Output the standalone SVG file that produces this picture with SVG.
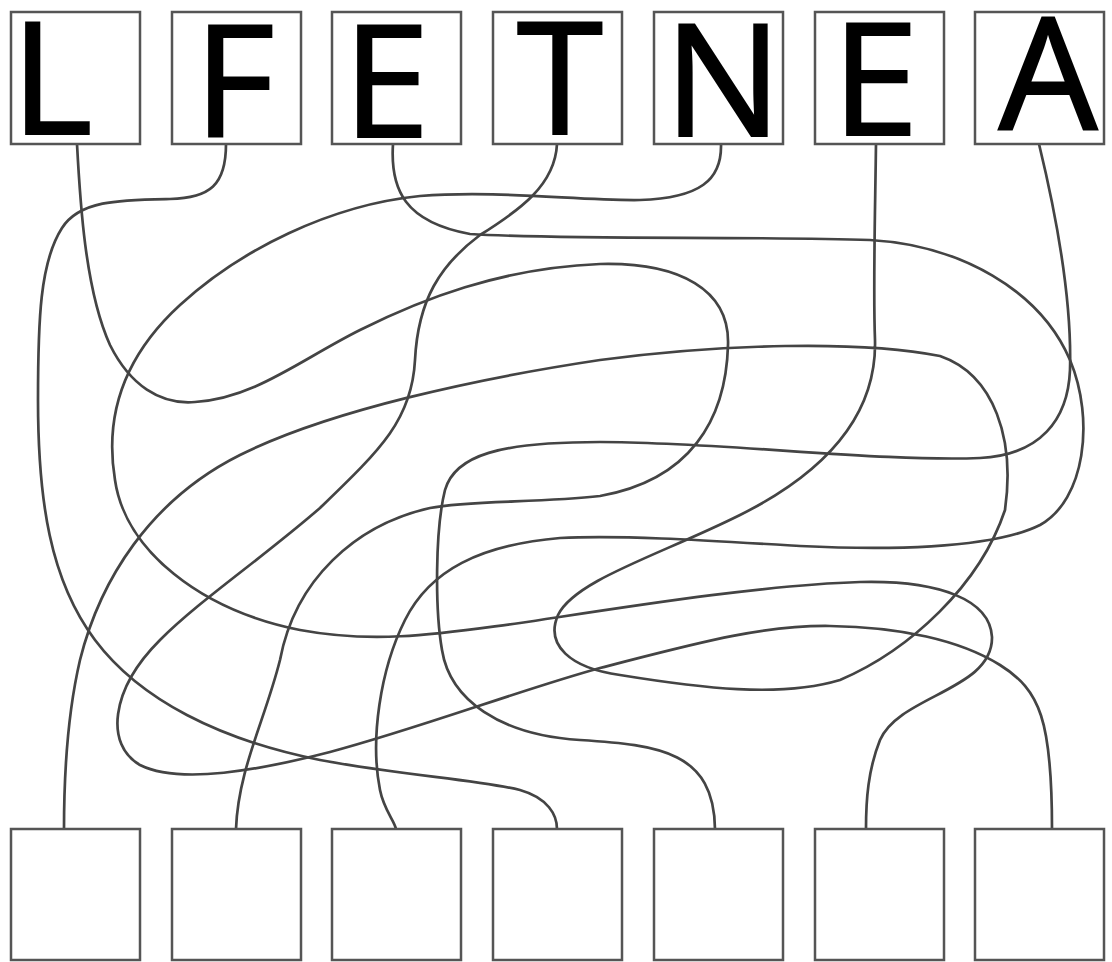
<svg xmlns="http://www.w3.org/2000/svg" width="1112" height="962" viewBox="0 0 1112 962">
<style>
.box{fill:#fff;stroke:#555;stroke-width:2.5}
.ltr{font-family:"Open Sans","DejaVu Sans",sans-serif;font-size:156px;font-weight:400;fill:#000;stroke:#000;stroke-width:2.2;stroke-linejoin:miter}
.wire{fill:none;stroke:#444;stroke-width:2.7;stroke-linecap:round}
</style>
<rect width="1112" height="962" fill="#fff"/>
<g id="connectors">
<path class="wire" d="M77,144 C80,200 85,290 110,345 C130,385 160,405 195,402 C255,398 300,360 360,330 C420,300 500,268 600,264 C680,262 730,290 728,345 C726,420 690,480 600,496 C540,503 470,500 430,508 C355,525 295,580 280,660 C265,720 238,770 236,829"/>
<path class="wire" d="M226,144 C226,185 210,198 170,199 C120,200 80,200 62,228 C40,262 38,320 38,400 C38,500 50,580 95,640 C140,700 220,740 320,760 C400,775 480,780 520,790 C548,798 557,815 557,829"/>
<path class="wire" d="M393,144 C390,190 405,222 470,234 C560,240 750,236 870,240 C960,245 1040,290 1070,360 C1095,420 1085,500 1040,525 C990,550 880,550 800,546 C700,540 620,535 560,538 C480,545 430,570 405,620 C380,670 370,740 380,790 C384,810 394,820 396,829"/>
<path class="wire" d="M557,144 C555,185 520,210 480,235 C440,265 418,300 415,360 C412,420 380,450 320,508 C260,560 200,600 160,640 C110,690 105,745 140,765 C180,785 260,770 330,752 C420,728 520,690 600,668 C690,645 760,625 830,626 C900,627 960,640 1000,665 C1040,690 1052,720 1052,829"/>
<path class="wire" d="M721,144 C722,180 700,198 640,200 C580,201 500,190 420,196 C330,205 240,250 180,305 C120,360 105,420 115,480 C125,550 200,610 300,630 C380,645 450,632 520,623 C620,608 760,585 860,582 C940,580 990,600 992,637 C993,690 900,695 880,740 C868,770 866,800 866,829"/>
<path class="wire" d="M876,144 C875,220 873,290 875,340 C877,420 820,475 740,515 C660,555 575,580 558,615 C545,645 570,668 620,675 C700,688 780,698 840,680 C910,650 980,585 1005,510 C1015,440 995,375 940,356 C860,340 720,344 600,360 C480,378 330,410 240,455 C150,500 100,580 80,660 C66,720 64,780 64,829"/>
<path class="wire" d="M1039,144 C1055,210 1072,300 1070,370 C1068,420 1040,455 980,458 C880,462 720,442 600,442 C500,442 455,455 445,490 C435,530 435,610 442,650 C450,700 500,735 580,740 C660,745 714,752 715,829"/>
</g>
<g id="top-L"><rect class="box" x="11" y="12" width="129" height="132"/><text class="ltr" x="11" y="134">L</text></g>
<g id="top-F"><rect class="box" x="172" y="12" width="129" height="132"/><text class="ltr" x="194" y="137">F</text></g>
<g id="top-E1"><rect class="box" x="332" y="12" width="129" height="132"/><text class="ltr" x="343" y="137">E</text></g>
<g id="top-T"><rect class="box" x="493" y="12" width="129" height="132"/><text class="ltr" x="560" y="134" text-anchor="middle">T</text></g>
<g id="top-N"><rect class="box" x="654" y="12" width="129" height="132"/><text class="ltr" x="723" y="136" text-anchor="middle">N</text></g>
<g id="top-E2"><rect class="box" x="815" y="12" width="129" height="132"/><text class="ltr" x="832" y="135">E</text></g>
<g id="top-A"><rect class="box" x="975" y="12" width="129" height="132"/><text class="ltr" x="1048" y="129" text-anchor="middle">A</text></g>
<g id="bottom-1"><rect class="box" x="11" y="829" width="129" height="131"/></g>
<g id="bottom-2"><rect class="box" x="172" y="829" width="129" height="131"/></g>
<g id="bottom-3"><rect class="box" x="332" y="829" width="129" height="131"/></g>
<g id="bottom-4"><rect class="box" x="493" y="829" width="129" height="131"/></g>
<g id="bottom-5"><rect class="box" x="654" y="829" width="129" height="131"/></g>
<g id="bottom-6"><rect class="box" x="815" y="829" width="129" height="131"/></g>
<g id="bottom-7"><rect class="box" x="975" y="829" width="129" height="131"/></g>
</svg>
